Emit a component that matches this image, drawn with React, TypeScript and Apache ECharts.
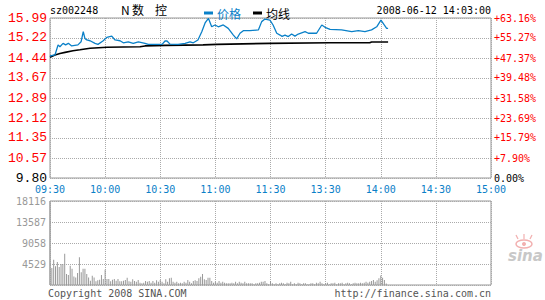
import React, { useEffect, useRef } from "react";
import * as echarts from "echarts";

const timeLabels = ["09:30", "10:00", "10:30", "11:00", "11:30", "13:30", "14:00", "14:30", "15:00"];
const priceTicks = [9.8, 10.57, 11.35, 12.12, 12.89, 13.67, 14.44, 15.22, 15.99];
const pctLabels = ["0.00%", "+7.90%", "+15.79%", "+23.69%", "+31.58%", "+39.48%", "+47.37%", "+55.27%", "+63.16%"];
const volMax = 18116;
const volStep = 4529;

// price line, minute index from 09:30 (11:30 and 13:00 merged)
const priceMinutes = [0, 2.7, 4.4, 5.4, 7.1, 8.5, 10, 11.8, 15.2, 16.9, 18.1, 19, 20, 21.8, 24.5, 26.1, 28.8, 30.9, 33.6, 35.4, 38.1, 39.9, 42.6, 45.3, 48.1, 51.7, 53.5, 61, 62.6, 63.7, 65.3, 69.7, 73.5, 76.2, 78, 80.5, 82.6, 84.4, 86.2, 88, 89.8, 91.6, 94.3, 97, 99.8, 101.6, 103.4, 105.2, 108.8, 113.4, 115.2, 117, 119.7, 121.4, 123.4, 125.2, 126.3, 127.9, 129.7, 131.5, 133.3, 135.1, 138.8, 140.6, 145.1, 147.9, 149.7, 152.4, 158.7, 164.2, 167.8, 171.4, 175, 177.8, 180.1, 181.9, 183.2, 184];
const priceValues = [14.52, 14.56, 14.95, 14.88, 15.01, 14.95, 15.01, 14.91, 14.95, 15.07, 15.46, 15.2, 15.14, 15.11, 15.01, 14.97, 15.1, 15.24, 15.29, 15.14, 15.11, 15.03, 15.07, 15.01, 15.07, 15.01, 14.97, 14.97, 15.1, 15.1, 14.98, 14.97, 15.01, 15.07, 15.03, 15.14, 15.46, 15.8, 15.98, 15.65, 15.72, 15.65, 15.72, 15.59, 15.33, 15.18, 15.4, 15.5, 15.5, 15.53, 15.85, 15.95, 15.91, 15.72, 15.4, 15.33, 15.28, 15.33, 15.27, 15.37, 15.29, 15.37, 15.46, 15.4, 15.4, 15.72, 15.63, 15.55, 15.53, 15.46, 15.5, 15.46, 15.53, 15.65, 15.91, 15.72, 15.59, 15.59];

// average price line
const avgMinutes = [0, 2.7, 5.4, 8.2, 12.5, 16.3, 21.8, 31, 49, 51.7, 62.6, 83.3, 90.9, 119.7, 152.4, 174, 175, 184];
const avgValues = [14.47, 14.56, 14.62, 14.66, 14.72, 14.76, 14.82, 14.86, 14.88, 14.91, 14.93, 14.95, 14.97, 15.01, 15.03, 15.03, 15.06, 15.06];

// volume per minute
const volumes = [
  18116, 3670, 5460, 4020, 4960, 3880, 4530, 4530, 6750, 2370,
  2160, 4160, 3520, 1860, 1640, 2590, 5960, 2730, 3520, 3520,
  2370, 1640, 930, 2000, 1640, 790, 1000, 1140, 2160, 1290,
  3300, 1290, 1290, 790, 1140, 1290, 930, 1290, 790, 790,
  930, 1080, 1580, 790, 720, 1220, 860, 720, 1080, 500,
  360, 500, 860, 720, 860, 500, 860, 500, 1000, 720,
  1080, 720, 360, 1220, 720, 1440, 1580, 720, 500, 720,
  360, 500, 360, 720, 500, 1080, 720, 360, 860, 1010,
  860, 1440, 1800, 2370, 1220, 1080, 1580, 1580, 860, 500,
  720, 500, 860, 500, 720, 500, 360, 360, 360, 500,
  360, 720, 360, 720, 500, 360, 720, 360, 360, 360,
  360, 140, 360, 360, 500, 720, 720, 860, 360, 140,
  860, 360, 140, 360, 140, 360,
  500, 360, 140, 500, 360, 720, 140, 360, 140, 500,
  360, 140, 360, 360, 140, 140, 360, 360, 140, 500,
  360, 720, 360, 140, 360, 500, 140, 360, 360, 500,
  140, 360, 360, 500, 140, 360, 500, 360, 140, 360,
  500, 360, 360, 500, 360, 500, 720, 500, 720, 860,
  1080, 720, 1000, 1440, 2070, 1580, 1080, 300,
];

const MONO = "'DejaVu Sans Mono', monospace";
const CJK = "'Noto Sans CJK SC', sans-serif";
const dotted = { show: true, lineStyle: { color: "#aaaaaa", type: "dotted" as const, width: 1 } };

export default function App() {
  const ref = useRef<HTMLDivElement>(null);
  useEffect(() => {
    if (!ref.current) return;
    const chart = echarts.init(ref.current, undefined, { renderer: "svg" });
    const tickIndex = (v: number) => priceTicks.findIndex((t) => Math.abs(t - Number(v)) < 1e-6);
    const priceData = priceMinutes.map((m, i) => [m, priceValues[i]]);
    const avgData = avgMinutes.map((m, i) => [m, avgValues[i]]);
    const volData = volumes.map((v, i) => [i, v]);
    chart.setOption({
      animation: false,
      backgroundColor: "#ffffff",
      grid: [
        { left: 50, top: 18, width: 441, height: 160, show: true, borderColor: "#999999", borderWidth: 1, backgroundColor: "transparent" },
        { left: 50, top: 201, width: 441, height: 84, show: true, borderColor: "#999999", borderWidth: 1, backgroundColor: "transparent" },
      ],
      legend: {
        left: 199,
        top: 2,
        itemWidth: 9,
        itemHeight: 3,
        itemGap: 12,
        icon: "rect",
        textStyle: { fontFamily: CJK, fontSize: 12, padding: [0, 0, 0, -1] },
        data: [
          { name: "价格", textStyle: { color: "#0a80c8" } },
          { name: "均线", textStyle: { color: "#000000" } },
        ],
      },
      xAxis: [
        {
          type: "value", gridIndex: 0, min: 0, max: 240, interval: 30,
          axisLine: { show: false }, axisTick: { show: false },
          axisLabel: {
            formatter: (v: number) => timeLabels[Math.round(v / 30)] ?? "",
            color: "#0a80c8", fontFamily: MONO, fontSize: 10, margin: 6, lineHeight: 10,
          },
          splitLine: dotted,
        },
        {
          type: "value", gridIndex: 1, min: 0, max: 240, interval: 30,
          axisLine: { show: false }, axisTick: { show: false },
          axisLabel: { show: false },
          splitLine: dotted,
        },
      ],
      yAxis: [
        {
          type: "value", gridIndex: 0, position: "left", min: 9.8, max: 15.99,
          axisLine: { show: false },
          axisTick: { show: false, customValues: priceTicks },
          axisLabel: {
            customValues: priceTicks,
            formatter: (v: number) => Number(v).toFixed(2),
            color: (v: any) => (Math.abs(Number(v) - 9.8) < 1e-6 ? "#000000" : "#ff0000"),
            fontFamily: "'Liberation Mono', monospace", fontSize: 13, lineHeight: 10, margin: 3,
          },
          splitLine: dotted,
        },
        {
          type: "value", gridIndex: 0, position: "right", min: 9.8, max: 15.99,
          axisLine: { show: false },
          axisTick: { show: false, customValues: priceTicks },
          axisLabel: {
            customValues: priceTicks,
            formatter: (v: number) => pctLabels[tickIndex(v)] ?? "",
            color: (v: any) => (Math.abs(Number(v) - 9.8) < 1e-6 ? "#000000" : "#ff0000"),
            fontFamily: MONO, fontSize: 10, margin: 3,
          },
          splitLine: { show: false },
        },
        {
          type: "value", gridIndex: 1, min: 0, max: volMax, interval: volStep,
          axisLine: { show: false }, axisTick: { show: false },
          axisLabel: {
            formatter: (v: number) => (v === 0 ? "" : String(v)),
            color: "#999999", fontFamily: MONO, fontSize: 10, margin: 4,
          },
          splitLine: dotted,
        },
      ],
      series: [
        {
          name: "均线", type: "line", xAxisIndex: 0, yAxisIndex: 0, data: avgData,
          showSymbol: false, symbol: "none", color: "#000000",
          lineStyle: { color: "#000000", width: 1.6 }, z: 3,
        },
        {
          name: "价格", type: "line", xAxisIndex: 0, yAxisIndex: 0, data: priceData,
          showSymbol: false, symbol: "none", color: "#0a80c8",
          lineStyle: { color: "#0a80c8", width: 1.3 }, z: 4,
        },
        {
          name: "成交量", type: "bar", xAxisIndex: 1, yAxisIndex: 2, data: volData,
          barWidth: 1, itemStyle: { color: "#999999" }, z: 3,
        },
      ],
      graphic: [
        { type: "text", left: 50, top: 5, style: { text: "sz002248", fill: "#000", font: `10px ${MONO}` } },
        { type: "text", left: 121, top: 3, style: { text: "N", fill: "#000", font: `12px ${CJK}` } },
        { type: "text", left: 132, top: 3, style: { text: "数", fill: "#000", font: `12px ${CJK}` } },
        { type: "text", left: 155, top: 3, style: { text: "控", fill: "#000", font: `12px ${CJK}` } },
        { type: "text", right: 54, top: 5, style: { text: "2008-06-12 14:03:00", fill: "#000", font: `10px ${MONO}` } },
        { type: "text", left: 48, top: 288, style: { text: "Copyright 2008 SINA.COM", fill: "#555", font: `10px ${MONO}` } },
        { type: "text", right: 54, top: 288, style: { text: "http://finance.sina.com.cn", fill: "#555", font: `10px ${MONO}` } },
        { type: "ellipse", shape: { cx: 524, cy: 244, rx: 8, ry: 4 }, style: { fill: "none", stroke: "#f2b0b0", lineWidth: 1.5 } },
        { type: "circle", shape: { cx: 524, cy: 244, r: 2 }, style: { fill: "#f2b0b0" } },
        { type: "line", shape: { x1: 518, y1: 239, x2: 516, y2: 235 }, style: { stroke: "#f2b0b0", lineWidth: 1.2 } },
        { type: "line", shape: { x1: 524, y1: 239, x2: 524, y2: 234 }, style: { stroke: "#f2b0b0", lineWidth: 1.2 } },
        { type: "line", shape: { x1: 530, y1: 239, x2: 532, y2: 235 }, style: { stroke: "#f2b0b0", lineWidth: 1.2 } },
        { type: "text", left: 508, top: 248, style: { text: "sina", fill: "#c8c8c8", font: `italic bold 15px 'DejaVu Sans', sans-serif` } },
      ],
    });
    return () => chart.dispose();
  }, []);
  return <div ref={ref} style={{ position: "fixed", left: 0, top: 0, width: 545, height: 300 }} />;
}
